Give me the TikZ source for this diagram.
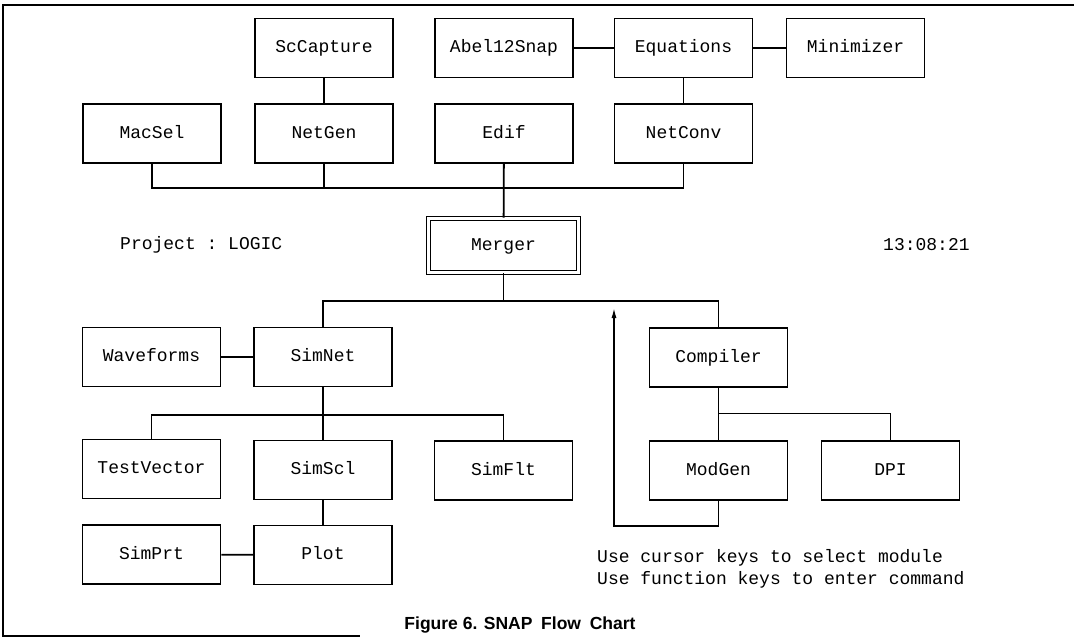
\documentclass[tikz,border=0pt]{standalone}
\usepackage{fontspec}
\setmonofont{Liberation Mono}
\setsansfont{Liberation Sans}
\usepackage{tikz}
\usetikzlibrary{positioning,arrows.meta,calc}

\begin{document}
\begin{tikzpicture}[
  x=1pt, y=-1pt,
  lbl/.style={font=\ttfamily\fontsize{18}{22}\selectfont, inner sep=0pt, anchor=west},
  modbox/.style={draw, line width=1.8pt, minimum width=138pt, minimum height=59pt, inner sep=0pt, text height=12pt, text depth=3pt, font=\ttfamily\fontsize{18}{22}\selectfont},
  mainbox/.style={draw, double, line width=1.6pt, double distance=2.6pt, minimum width=150pt, minimum height=54pt, inner sep=0pt, text height=12pt, text depth=3pt, font=\ttfamily\fontsize{18}{22}\selectfont},
  link/.style={draw, line width=1.8pt},
  frameline/.style={draw, line width=2.6pt}
]
\useasboundingbox (0,0) rectangle (1074,638);

% outer frame
\draw[frameline] (1074,5) -- (3,5) -- (3,636) -- (360,636);

% top rows
\node[modbox] (sccapture) at (324, 48) {ScCapture};
\node[modbox] (abel) at (504, 48) {Abel12Snap};
\node[modbox] (equations) at (683.5, 48) {Equations};
\node[modbox] (minimizer) at (855.5, 48) {Minimizer};
\node[modbox] (macsel) at (152, 133.5) {MacSel};
\node[modbox] (netgen) at (324, 133.5) {NetGen};
\node[modbox] (edif) at (504, 133.5) {Edif};
\node[modbox] (netconv) at (683.5, 133.5) {NetConv};
\node[mainbox] (merger) at (503.5, 245.5) {Merger};

% lower rows
\node[modbox] (waveforms) at (151.5, 357) {Waveforms};
\node[modbox] (simnet) at (323, 357) {SimNet};
\node[modbox] (compiler) at (718.5, 357.5) {Compiler};
\node[modbox] (testvector) at (151.5, 469) {TestVector};
\node[modbox] (simscl) at (323, 470) {SimScl};
\node[modbox] (simflt) at (503.5, 470.5) {SimFlt};
\node[modbox] (modgen) at (718.5, 470.5) {ModGen};
\node[modbox] (dpi) at (890.5, 470.5) {DPI};
\node[modbox] (simprt) at (151.5, 554.5) {SimPrt};
\node[modbox] (plot) at (323, 555) {Plot};

% bus points
\coordinate (topbus) at (504, 188);
\coordinate (midbus) at (503.5, 301);
\coordinate (simbus) at (323, 415);
\coordinate (compbus) at (718.5, 413.5);
\coordinate (loopcorner) at (614, 526);
\coordinate (looptip) at (614, 307);

\draw[link] (sccapture) -- (netgen);
\draw[link] (abel) -- (equations);
\draw[link] (equations) -- (minimizer);
\draw[link] (equations) -- (netconv);
\draw[link] (macsel.south) |- (topbus) -| (netconv.south);
\draw[link] (netgen.south) -- (netgen.south |- topbus);
\draw[link] (edif) -- (merger);
\draw[link] (merger.south) -- (midbus);
\draw[link] (simnet.north) |- (midbus) -| (compiler.north);
\draw[link] (waveforms) -- (simnet);
\draw[link] (simnet) -- (simscl);
\draw[link] (testvector.north) |- (simbus) -| (simflt.north);
\draw[link] (simscl) -- (plot);
\draw[link] (simprt) -- (plot);
\draw[link] (compiler) -- (modgen);
\draw[link] (compbus) -| (dpi.north);
\draw[link, -{Latex[length=11pt,width=5pt]}] (modgen.south) |- (loopcorner) -- (looptip);

% texts
\node[lbl] (project) at (120, 245) {Project : LOGIC};
\node[lbl] (clock) at (883, 245) {13:08:21};
\node[lbl, align=left] (help) at (597, 569) {Use cursor keys to select module\\Use function keys to enter command};
\node[font=\sffamily\bfseries\fontsize{17.5}{20}\selectfont, inner sep=0pt] (caption) at (520, 625) {Figure 6. SNAP\hspace{0.5em}Flow\hspace{0.5em}Chart};

\end{tikzpicture}
\end{document}
